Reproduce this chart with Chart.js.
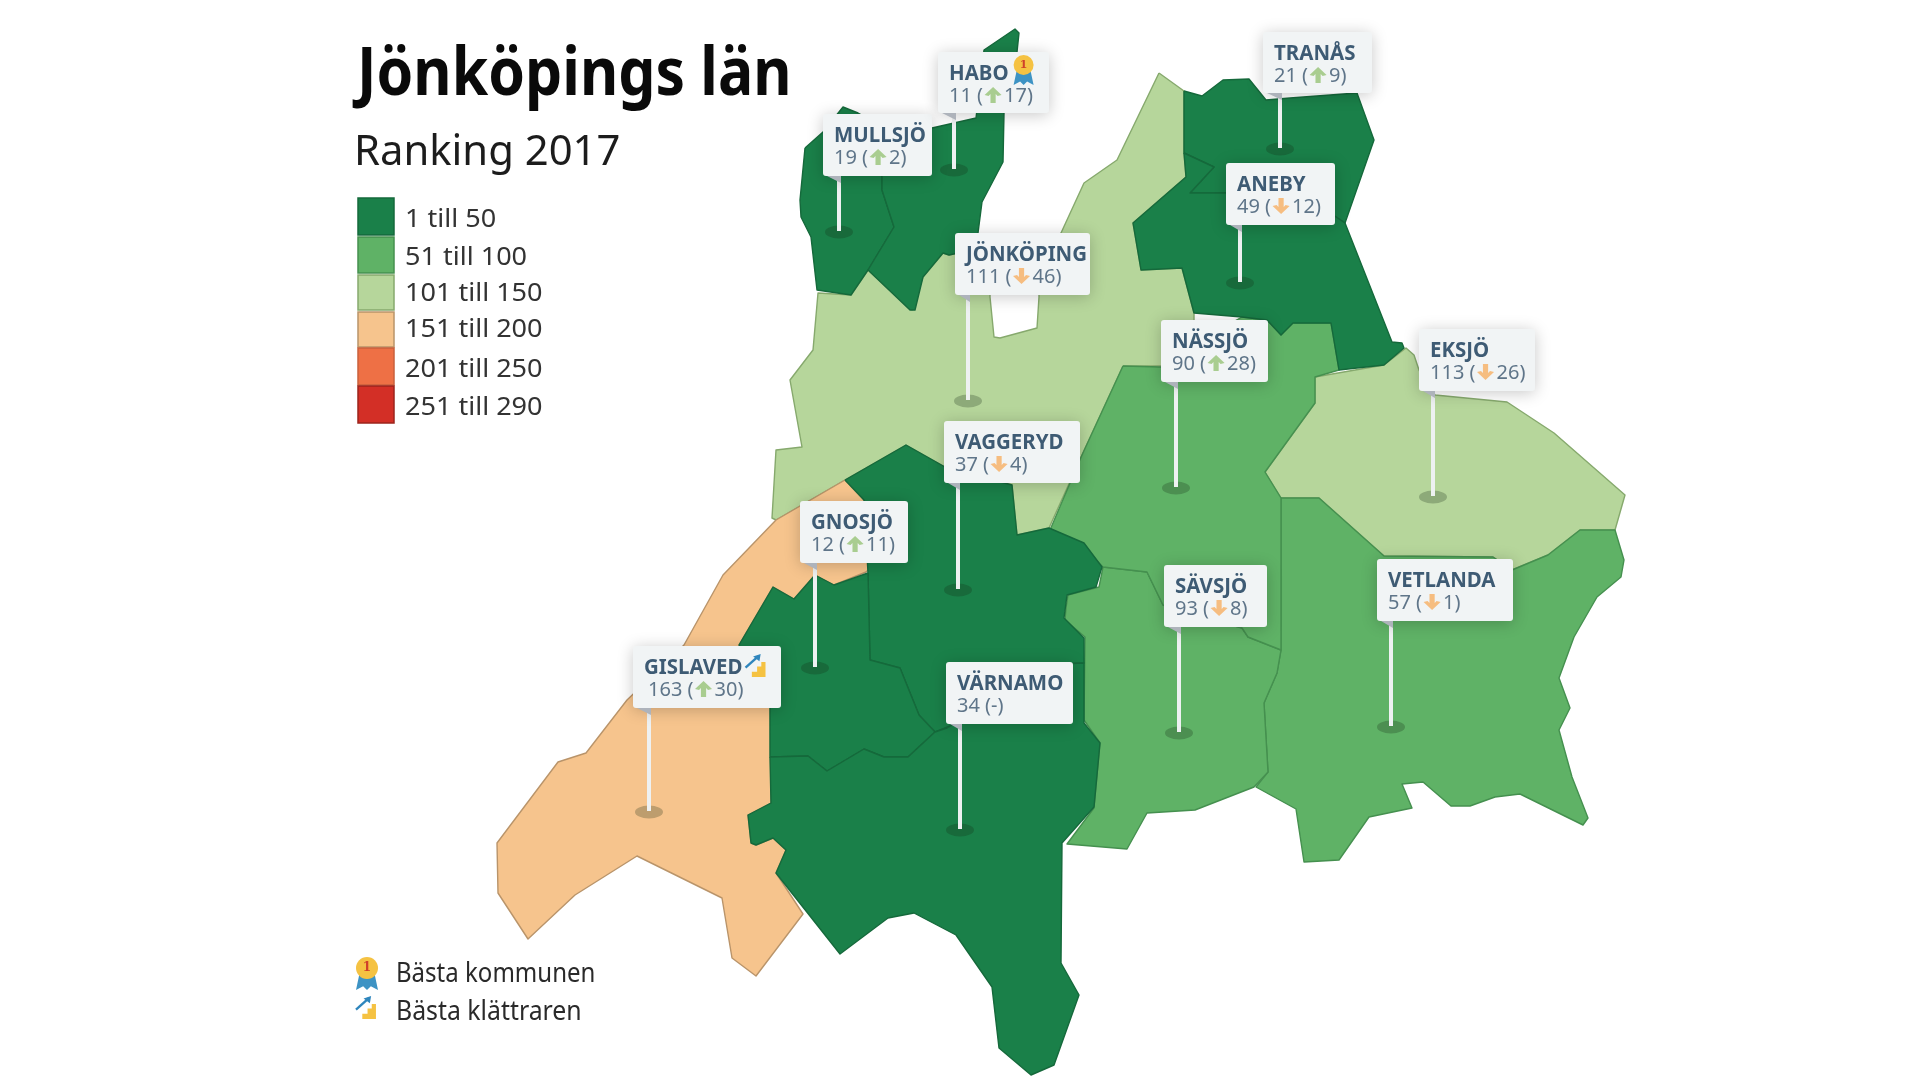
<!DOCTYPE html>
<html lang="sv">
<head>
<meta charset="utf-8">
<title>Jönköpings län - Ranking 2017</title>
<script src="https://cdn.jsdelivr.net/npm/chart.js@4/dist/chart.umd.min.js"></script>
<style>
    html, body { margin: 0; padding: 0; background: #fff; }
    canvas { display: block; }
</style>
</head>
<body>
<canvas id="map" width="1920" height="1079"></canvas>
<script>
// ==================== DATA ====================

const municipalities = ['JÖNKÖPING', 'GISLAVED', 'EKSJÖ', 'VETLANDA', 'SÄVSJÖ', 'NÄSSJÖ', 'TRANÅS', 'ANEBY', 'MULLSJÖ', 'HABO', 'VAGGERYD', 'GNOSJÖ', 'VÄRNAMO'];
const ranks = [111, 163, 113, 57, 93, 90, 21, 49, 19, 11, 37, 12, 34];
const rankChanges = [-46, 30, -26, -1, -8, 28, 9, -12, 2, 17, -4, 11, 0];

const bandLabels = ['1 till 50', '51 till 100', '101 till 150', '151 till 200', '201 till 250', '251 till 290'];
const bandLimits = [50, 100, 150, 200, 250, 290];
const bandColors = ['#1a8049', '#5fb266', '#b6d69b', '#f6c48d', '#ee7045', '#d32f26'];
const bandBorders = ['#15693b', '#45904f', '#86a96d', '#b9946a', '#c9603c', '#9c241c'];

// map outlines, in the reference's pixel grid
const jonkopingOutline = [[1159,73],[1184,91],[1184,153],[1186,177],[1133,223],[1141,270],[1182,268],[1194,313],[1194,366],[1123,366],[1082,455],[1049,528],[1017,535],[1012,485],[945,467],[906,445],[845,480],[776,520],[772,518],[776,450],[802,447],[790,380],[813,350],[818,293],[851,295],[868,270],[912,310],[923,277],[943,253],[949,255],[972,250],[1040,250],[1061,233],[1084,183],[1117,160]];
const lakeOutline = [[990,270],[1039,270],[1039,297],[1037,328],[1000,338],[994,337],[990,297]];
const gislavedOutline = [[776,520],[845,480],[864,500],[900,540],[866,572],[834,585],[815,575],[794,599],[773,587],[739,645],[770,700],[771,803],[748,815],[751,843],[756,845],[773,838],[786,850],[776,873],[803,914],[756,976],[732,958],[722,898],[637,856],[575,895],[528,939],[498,893],[497,843],[558,762],[586,753],[627,700],[684,645],[723,575]];
const eksjoOutline = [[1315,377],[1384,365],[1406,348],[1414,355],[1419,370],[1435,395],[1507,402],[1554,433],[1625,495],[1615,530],[1580,530],[1548,555],[1512,570],[1493,557],[1384,556],[1319,498],[1281,498],[1265,472],[1315,403]];
const vetlandaOutline = [[1281,498],[1319,498],[1384,556],[1493,557],[1512,570],[1548,555],[1580,530],[1615,530],[1624,560],[1621,577],[1597,597],[1574,637],[1559,678],[1570,708],[1559,730],[1572,777],[1588,818],[1583,825],[1520,794],[1495,797],[1470,806],[1451,806],[1423,782],[1402,784],[1412,808],[1369,817],[1339,860],[1304,862],[1296,809],[1256,787],[1268,772],[1264,703],[1277,673],[1281,650]];
const savsjoOutline = [[1281,650],[1277,673],[1264,703],[1268,772],[1254,787],[1195,810],[1147,813],[1127,849],[1067,844],[1094,808],[1100,743],[1084,720],[1085,637],[1065,620],[1066,608],[1068,595],[1099,587],[1103,567],[1147,572],[1163,605],[1242,628],[1248,637]];
const nassjoOutline = [[1123,366],[1161,367],[1200,340],[1242,317],[1267,320],[1281,335],[1293,323],[1331,323],[1339,370],[1315,377],[1315,403],[1265,472],[1281,498],[1281,650],[1248,637],[1242,628],[1163,605],[1147,572],[1103,567],[1081,545],[1050,530],[1082,455]];
const tranasOutline = [[1184,91],[1202,96],[1223,80],[1249,79],[1266,100],[1290,98],[1357,93],[1374,140],[1345,223],[1300,193],[1225,193],[1190,193],[1214,167],[1184,153]];
const anebyOutline = [[1184,153],[1214,167],[1190,193],[1300,193],[1345,223],[1392,342],[1402,343],[1404,348],[1384,365],[1339,370],[1331,323],[1293,323],[1281,335],[1267,320],[1242,317],[1194,313],[1182,268],[1141,270],[1133,223],[1186,177]];
const mullsjoOutline = [[805,148],[823,132],[843,107],[858,113],[880,125],[882,177],[882,190],[894,227],[868,270],[851,295],[817,290],[811,237],[801,217],[800,200]];
const haboOutline = [[880,125],[932,128],[976,118],[984,50],[1015,29],[1019,33],[1017,52],[1004,113],[1003,162],[982,202],[978,233],[972,250],[949,255],[943,253],[923,277],[915,310],[910,310],[868,270],[894,227],[882,190],[882,177]];
const vaggerydOutline = [[845,480],[906,445],[945,467],[1012,485],[1017,535],[1049,528],[1084,543],[1102,567],[1096,587],[1067,595],[1064,618],[1084,638],[1084,663],[1060,664],[960,722],[935,732],[919,715],[900,668],[870,660],[868,573],[864,500]];
const gnosjoOutline = [[868,573],[834,585],[815,575],[794,599],[773,587],[739,645],[770,700],[770,757],[808,756],[827,771],[864,749],[884,757],[908,757],[935,732],[919,715],[900,668],[870,660]];
const varnamoOutline = [[770,757],[808,756],[827,771],[864,749],[884,757],[908,757],[935,732],[947,728],[1060,664],[1084,663],[1084,723],[1100,743],[1094,807],[1062,843],[1061,963],[1079,995],[1054,1065],[1031,1075],[999,1048],[992,987],[956,935],[914,913],[888,918],[840,954],[776,873],[786,850],[773,838],[756,845],[751,843],[748,815],[771,803]];

// outlines in the same order as municipalities
const outlines = [jonkopingOutline, gislavedOutline, eksjoOutline, vetlandaOutline, savsjoOutline, nassjoOutline, tranasOutline, anebyOutline, mullsjoOutline, haboOutline, vaggerydOutline, gnosjoOutline, varnamoOutline];

// flag pole feet and flag rectangles [left, top, right, bottom]
const poleFeet = [[968,401],[649,812],[1433,497],[1391,727],[1179,733],[1176,488],[1280,149],[1240,283],[839,232],[954,170],[958,590],[815,668],[960,830]];
const flagBoxes = [[955,233,1090,295],[633,646,781,708],[1419,329,1535,391],[1377,559,1513,621],[1164,565,1267,627],[1161,320,1268,382],[1263,32,1372,93],[1226,163,1335,225],[823,114,932,176],[938,52,1049,113],[944,421,1080,483],[800,501,908,563],[946,662,1073,724]];

// ==================== HELPERS ====================

function bandIndex(rank) {
    return bandLimits.findIndex(limit => rank <= limit);
}

function toPoints(outline) {
    const pts = outline.map(p => ({ x: p[0], y: p[1] }));
    pts.push(pts[0]); // close the shape
    return pts;
}

function regionDataset(label, outline, fillColor, lineColor) {
    return {
        label,
        data: toPoints(outline),
        showLine: true,
        fill: 'shape',
        tension: 0,
        pointRadius: 0,
        borderWidth: 1.4,
        borderJoinStyle: 'round',
        backgroundColor: fillColor,
        borderColor: lineColor
    };
}

function textWidth(ctx, text, font) {
    ctx.save();
    ctx.font = font;
    const w = ctx.measureText(text).width;
    ctx.restore();
    return w;
}

// Squeezed text, the original face has other widths than what is installed
function drawText(ctx, text, x, y, font, color, squeeze) {
    ctx.save();
    ctx.font = font;
    ctx.fillStyle = color;
    ctx.textBaseline = 'alphabetic';
    ctx.translate(x, y);
    ctx.scale(squeeze, 1);
    ctx.fillText(text, 0, 0);
    ctx.restore();
    return textWidth(ctx, text, font) * squeeze;
}

function drawArrow(ctx, cx, cy, up, color) {
    const d = up ? -1 : 1;
    ctx.save();
    ctx.fillStyle = color;
    ctx.beginPath();
    ctx.moveTo(cx, cy + d * 8);
    ctx.lineTo(cx + 8.5, cy);
    ctx.lineTo(cx + 4.5, cy - d * 1);
    ctx.lineTo(cx + 2.6, cy + d * 1);
    ctx.lineTo(cx + 2.6, cy - d * 8);
    ctx.lineTo(cx - 2.6, cy - d * 8);
    ctx.lineTo(cx - 2.6, cy + d * 1);
    ctx.lineTo(cx - 4.5, cy - d * 1);
    ctx.lineTo(cx - 8.5, cy);
    ctx.closePath();
    ctx.fill();
    ctx.restore();
}

function drawMedal(ctx, cx, cy, r) {
    ctx.save();
    ctx.fillStyle = '#3d93c4';
    ctx.beginPath();
    ctx.moveTo(cx - r * 0.7, cy + r * 0.6);
    ctx.lineTo(cx - r, cy + r * 2);
    ctx.lineTo(cx - r * 0.35, cy + r * 1.65);
    ctx.lineTo(cx, cy + r * 2);
    ctx.lineTo(cx + r * 0.35, cy + r * 1.65);
    ctx.lineTo(cx + r, cy + r * 2);
    ctx.lineTo(cx + r * 0.7, cy + r * 0.6);
    ctx.closePath();
    ctx.fill();
    ctx.fillStyle = '#f5c242';
    ctx.beginPath();
    ctx.arc(cx, cy, r, 0, Math.PI * 2);
    ctx.fill();
    ctx.fillStyle = '#d0402a';
    ctx.font = 'bold ' + Math.round(r * 1.1) + 'px "DejaVu Serif"';
    ctx.textAlign = 'center';
    ctx.textBaseline = 'middle';
    ctx.fillText('1', cx, cy);
    ctx.restore();
}

function drawClimber(ctx, x, y, s) {
    // x, y is the top left of the icon, s its size
    ctx.save();
    ctx.fillStyle = '#f5c242';
    ctx.beginPath();
    ctx.moveTo(x + s * 0.95, y + s * 0.28);
    ctx.lineTo(x + s * 0.95, y + s);
    ctx.lineTo(x + s * 0.3, y + s);
    ctx.lineTo(x + s * 0.3, y + s * 0.75);
    ctx.lineTo(x + s * 0.55, y + s * 0.75);
    ctx.lineTo(x + s * 0.55, y + s * 0.5);
    ctx.lineTo(x + s * 0.75, y + s * 0.5);
    ctx.lineTo(x + s * 0.75, y + s * 0.28);
    ctx.closePath();
    ctx.fill();
    ctx.strokeStyle = '#2f86bd';
    ctx.fillStyle = '#2f86bd';
    ctx.lineWidth = 2.4;
    ctx.beginPath();
    ctx.moveTo(x, y + s * 0.55);
    ctx.lineTo(x + s * 0.6, y + s * 0.02);
    ctx.stroke();
    ctx.beginPath();
    ctx.moveTo(x + s * 0.72, y - s * 0.1);
    ctx.lineTo(x + s * 0.66, y + s * 0.25);
    ctx.lineTo(x + s * 0.36, y + s * 0.02);
    ctx.closePath();
    ctx.fill();
    ctx.restore();
}

// ==================== PLUGINS ====================

// Title, rank legend and symbol legend
const legendPlugin = {
    id: 'legendText',
    afterDraw(chart) {
        const ctx = chart.ctx;
        drawText(ctx, 'Jönköpings län', 357, 95, 'bold 66px "Noto Sans"', '#0a0a0a', 0.893);
        drawText(ctx, 'Ranking 2017', 354, 165, '42px "Noto Sans"', '#1c1c1c', 0.995);

        const swatchTops = [198, 237, 275, 312, 348, 386];
        const swatchBottoms = [235, 273, 310, 347, 385, 423];
        const labelBaselines = [227, 265, 301, 337, 377, 415];
        bandLabels.forEach((label, i) => {
            ctx.fillStyle = bandColors[i];
            ctx.strokeStyle = bandBorders[i];
            ctx.lineWidth = 1.5;
            ctx.fillRect(358, swatchTops[i], 36, swatchBottoms[i] - swatchTops[i]);
            ctx.strokeRect(358, swatchTops[i], 36, swatchBottoms[i] - swatchTops[i]);
            drawText(ctx, label, 405, labelBaselines[i], '26px "Noto Sans"', '#333333', 1.04);
        });

        drawMedal(ctx, 367, 968, 11);
        drawText(ctx, 'Bästa kommunen', 396, 982, '27px "Noto Sans"', '#2a2a2a', 0.89);
        drawClimber(ctx, 356, 998, 21);
        drawText(ctx, 'Bästa klättraren', 396, 1020, '27px "Noto Sans"', '#2a2a2a', 0.92);
    }
};

// Flags with rank and change for every municipality
const flagPlugin = {
    id: 'flags',
    afterDatasetsDraw(chart) {
        const ctx = chart.ctx;
        const xs = chart.scales.x;
        const ys = chart.scales.y;

        // pole feet first so poles sit on top of them
        poleFeet.forEach(foot => {
            ctx.save();
            ctx.fillStyle = 'rgba(20, 40, 20, 0.25)';
            ctx.beginPath();
            ctx.ellipse(xs.getPixelForValue(foot[0]), ys.getPixelForValue(foot[1]), 14, 6.5, 0, 0, Math.PI * 2);
            ctx.fill();
            ctx.restore();
        });

        municipalities.forEach((name, i) => {
            const box = flagBoxes[i];
            const left = xs.getPixelForValue(box[0]);
            const top = ys.getPixelForValue(box[1]);
            const right = xs.getPixelForValue(box[2]);
            const bottom = ys.getPixelForValue(box[3]);
            const poleX = xs.getPixelForValue(poleFeet[i][0]);
            const footY = ys.getPixelForValue(poleFeet[i][1]);

            // pole
            ctx.fillStyle = '#eef1f2';
            ctx.fillRect(poleX - 2, bottom, 4, footY - bottom - 1);

            // flag
            ctx.save();
            ctx.shadowColor = 'rgba(0, 0, 0, 0.22)';
            ctx.shadowBlur = 16;
            ctx.shadowOffsetY = 2;
            ctx.fillStyle = '#f1f4f5';
            ctx.beginPath();
            ctx.roundRect(left, top, right - left, bottom - top, 3);
            ctx.fill();
            ctx.restore();

            // fold behind the flag
            ctx.fillStyle = '#aeb3bb';
            ctx.beginPath();
            ctx.moveTo(left + 4, bottom);
            ctx.lineTo(poleX + 2, bottom);
            ctx.lineTo(poleX + 2, bottom + 7);
            ctx.closePath();
            ctx.fill();

            // name
            const textX = left + 11;
            const nameFont = 'bold 22px "Noto Sans"';
            const nameW = drawText(ctx, name, textX, top + 28, nameFont, '#3e5b74', 0.93);

            // rank line
            const lineY = top + 50;
            const lineFont = '20px "Noto Sans"';
            const lineColor = '#5f7589';
            const change = rankChanges[i];
            let x = textX + (name === 'GISLAVED' ? 4 : 0);
            if (change === 0) {
                drawText(ctx, ranks[i] + ' (-)', x, lineY, lineFont, lineColor, 1);
            } else {
                x += drawText(ctx, ranks[i] + ' (', x, lineY, lineFont, lineColor, 1);
                const up = change > 0;
                drawArrow(ctx, x + 10, lineY - 7, up, up ? '#a9cd90' : '#f6bd80');
                drawText(ctx, Math.abs(change) + ')', x + 21, lineY, lineFont, lineColor, 1);
            }

            if (name === 'HABO') drawMedal(ctx, textX + nameW + 15, top + 13, 10);
            if (name === 'GISLAVED') drawClimber(ctx, textX + nameW + 3, top + 10, 21);
        });
    }
};

// ==================== CHART ====================

const datasets = [regionDataset('JÖNKÖPING', outlines[0], bandColors[bandIndex(ranks[0])], bandBorders[bandIndex(ranks[0])])];
datasets.push(regionDataset('sjö', lakeOutline, '#ffffff', bandBorders[2]));
municipalities.slice(1).forEach((name, i) => {
    const band = bandIndex(ranks[i + 1]);
    datasets.push(regionDataset(name, outlines[i + 1], bandColors[band], bandBorders[band]));
});

// the first dataset is painted last by Chart.js, so the stack goes in reversed
new Chart(document.getElementById('map'), {
    type: 'scatter',
    data: { datasets: datasets.reverse() },
    options: {
        responsive: false,
        animation: false,
        devicePixelRatio: 1,
        layout: { padding: 0 },
        scales: {
            x: { type: 'linear', min: 0, max: 1920, display: false },
            y: { type: 'linear', min: 0, max: 1079, reverse: true, display: false }
        },
        plugins: {
            legend: { display: false },
            tooltip: { enabled: false }
        }
    },
    plugins: [legendPlugin, flagPlugin]
});
</script>
</body>
</html>
